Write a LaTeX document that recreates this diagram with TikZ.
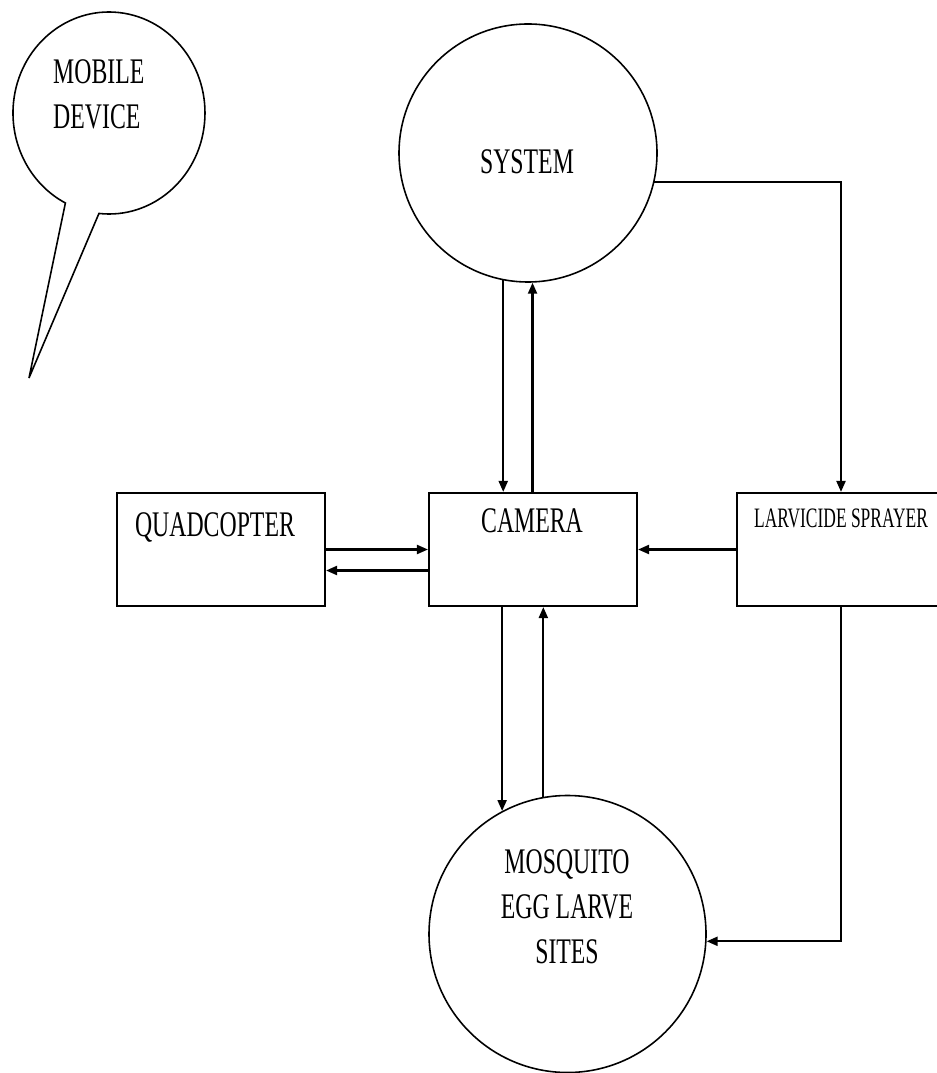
\documentclass[tikz,border=0pt]{standalone}
\usepackage{fontspec}
\setmainfont{Liberation Serif}
\usetikzlibrary{arrows.meta}

\begin{document}
\begin{tikzpicture}[
    box/.style={draw, line width=1.2pt, minimum width=4.16cm, minimum height=2.26cm},
    blob/.style={draw, circle, line width=0.9pt, inner sep=0pt},
    txt/.style={font=\fontsize{20.5}{25.5}\selectfont, xscale=0.66, align=center, inner sep=0pt},
    smalltxt/.style={font=\fontsize{16}{19}\selectfont, xscale=0.62, inner sep=0pt},
    arr/.style={line width=1.2pt, -{Triangle[length=0.22cm, width=0.18cm]}}
  ]
  \useasboundingbox (0,0) rectangle (18.72,-21.46);

  % Mobile device callout
  \draw[line width=0.9pt] (0.58,-7.56) -- (1.979,-4.269)
    arc[start angle=264, end angle=603, x radius=1.92cm, y radius=2.02cm] -- cycle;
  \node[txt, align=left, anchor=west] (mobile) at (1.06,-1.88) {MOBILE\\DEVICE};

  % Circles
  \node[blob, minimum size=5.16cm] (system) at (10.56,-3.06) {};
  \node[txt] (systemtxt) at (10.54,-3.24) {SYSTEM};
  \node[blob, minimum size=5.54cm] (sites) at (11.35,-18.68) {};
  \node[txt] (sitestxt) at (11.34,-18.14) {MOSQUITO\\EGG LARVE\\SITES};

  % Boxes
  \node[box] (quad) at (4.42,-10.99) {};
  \node[box] (camera) at (10.66,-10.99) {};
  \node[box] (sprayer) at (16.82,-10.99) {};
  \node[txt] (quadtxt) at (4.30,-10.54) {QUADCOPTER};
  \node[txt] (cameratxt) at (10.64,-10.42) {CAMERA};
  \node[smalltxt] (sprayertxt) at (16.82,-10.36) {LARVICIDE SPRAYER};

  % Flows between system and camera
  \draw[arr] (system.259) -- (system.259 |- camera.north);
  \draw[arr] (system.272 |- camera.north) -- (system.272);
  \draw[arr] (system.347) -| (sprayer.north);

  % Flows around camera
  \draw[arr] (quad.east) -- (camera.west);
  \draw[arr] ([yshift=-0.42cm]camera.west) -- ([yshift=-0.42cm]quad.east);
  \draw[arr] (sprayer.west) -- (camera.east);

  % Flows to the sites
  \draw[arr] (sites.118 |- camera.south) -- (sites.118);
  \draw[arr] (sites.100) -- (sites.100 |- camera.south);
  \draw[arr] (sprayer.south) |- (sites.357);

\end{tikzpicture}
\end{document}
